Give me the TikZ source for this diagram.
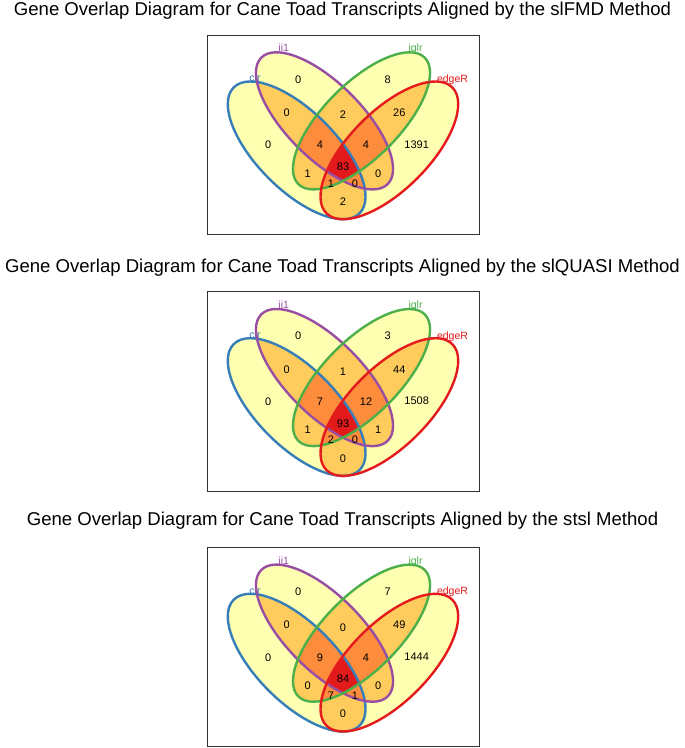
\documentclass[tikz,border=0pt]{standalone}
\usepackage{fontspec}
\setmainfont{Liberation Sans}
\definecolor{cA}{HTML}{FFFFB2}
\definecolor{cB}{HTML}{FECC5C}
\definecolor{cC}{HTML}{FD8D3C}
\definecolor{cD}{HTML}{E31A1C}
\definecolor{lclr}{HTML}{377EB8}
\definecolor{lii}{HTML}{984EA3}
\definecolor{liglr}{HTML}{4DAF4A}
\definecolor{ledge}{HTML}{E41A1C}
\tikzset{
  eB/.style={shift={(296.65,115.35)},rotate=-45},
  eP/.style={shift={(324.5,85.85)},rotate=-45},
  eG/.style={shift={(361.5,85.85)},rotate=45},
  eR/.style={shift={(389.35,115.35)},rotate=45},
  num/.style={font=\fontsize{11}{13}\selectfont, inner sep=0pt},
  setlab/.style={font=\fontsize{10.5}{12}\selectfont, inner sep=0pt, anchor=base},
  title/.style={font=\fontsize{18.55}{22}\selectfont, inner sep=0pt, anchor=base},
  frame/.style={draw=black!80, line width=0.8pt},
  outline/.style={line width=2.4pt},
}
\newcommand\shO{(0,0) ellipse (89 and 39.5)}
\newcommand\shI{(0,0) ellipse (89.4 and 37.5)}
\newcommand\vennbase{%
  \fill[cA,eB] \shO; \fill[cA,eP] \shI; \fill[cA,eG] \shI; \fill[cA,eR] \shO;
  \begin{scope}\clip[eB] \shO; \fill[cB,eP] \shI; \fill[cB,eG] \shI; \fill[cB,eR] \shO; \end{scope}
  \begin{scope}\clip[eP] \shI; \fill[cB,eG] \shI; \fill[cB,eR] \shO; \end{scope}
  \begin{scope}\clip[eG] \shI; \fill[cB,eR] \shO; \end{scope}
  \begin{scope}\clip[eB] \shO; \clip[eP] \shI; \fill[cC,eG] \shI; \fill[cC,eR] \shO; \end{scope}
  \begin{scope}\clip[eB] \shO; \clip[eG] \shI; \fill[cC,eR] \shO; \end{scope}
  \begin{scope}\clip[eP] \shI; \clip[eG] \shI; \fill[cC,eR] \shO; \end{scope}
  \begin{scope}\clip[eB] \shO; \clip[eP] \shI; \clip[eG] \shI; \fill[cD,eR] \shO; \end{scope}
  \node[setlab, text=lclr] (lbclr) at (255,46.7) {clr};
  \node[setlab, text=lii] (lbii) at (283.7,16.7) {ii1};
  \node[setlab, text=liglr] (lbiglr) at (415.5,16.7) {iglr};
  \node[setlab, text=ledge] (lbedge) at (452.5,47.3) {edgeR};
  \draw[outline, lclr, eB] \shO;
  \draw[outline, lii, eP] \shI;
  \draw[outline, liglr, eG] \shI;
  \draw[outline, ledge, eR] \shO;
  \draw[frame] (207,0) rectangle (479,199.5);
}
\newcommand\vnumsA[8]{%
  \node[num] (a1) at (268.3,110) {#1};
  \node[num] (a2) at (298.3,44.3) {#2};
  \node[num] (a3) at (387.7,44.3) {#3};
  \node[num] (a4) at (416.7,109.3) {#4};
  \node[num] (a5) at (286.7,77.7) {#5};
  \node[num] (a6) at (343,80) {#6};
  \node[num] (a7) at (399.3,77.7) {#7};
  \node[num] (a8) at (320,110) {#8};
}
\newcommand\vnumsB[7]{%
  \node[num] (b1) at (366,110) {#1};
  \node[num] (b2) at (343,131.7) {#2};
  \node[num] (b3) at (307.7,138.3) {#3};
  \node[num] (b4) at (378.3,138.3) {#4};
  \node[num] (b5) at (331,148.3) {#5};
  \node[num] (b6) at (355,148.3) {#6};
  \node[num] (b7) at (343,166.7) {#7};
}
\begin{document}
\begin{tikzpicture}[x=1pt,y=-1pt]
\useasboundingbox[fill=white] (0,0) rectangle (685,748);
\node[title] (t1) at (342.5,15.7) {Gene Overlap Diagram for Cane Toad Transcripts Aligned by the slFMD Method};
\node[title] (t2) at (342.5,272.7) {Gene Overlap Diagram for Cane Toad Transcripts Aligned by the slQUASI Method};
\node[title] (t3) at (342.5,525.7) {Gene Overlap Diagram for Cane Toad Transcripts Aligned by the stsl Method};
\begin{scope}[shift={(0,35)}, name prefix=p1-]
  \vennbase
  \vnumsA{0}{0}{8}{1391}{0}{2}{26}{4}
  \vnumsB{4}{83}{1}{0}{1}{0}{2}
\end{scope}
\begin{scope}[shift={(0,291.7)}, name prefix=p2-]
  \vennbase
  \vnumsA{0}{0}{3}{1508}{0}{1}{44}{7}
  \vnumsB{12}{93}{1}{1}{2}{0}{0}
\end{scope}
\begin{scope}[shift={(0,547.3)}, name prefix=p3-]
  \vennbase
  \vnumsA{0}{0}{7}{1444}{0}{0}{49}{9}
  \vnumsB{4}{84}{0}{0}{7}{1}{0}
\end{scope}
\end{tikzpicture}
\end{document}
